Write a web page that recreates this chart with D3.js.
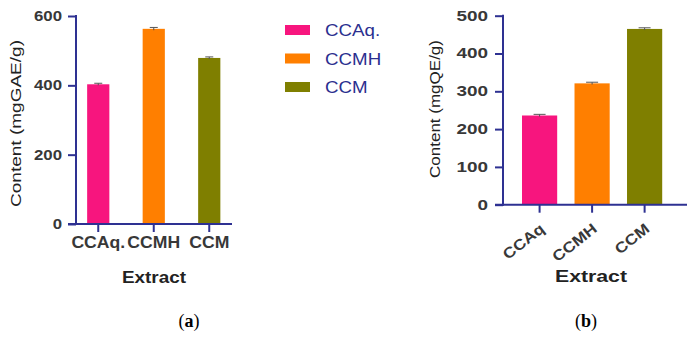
<!DOCTYPE html>
<html>
<head>
<meta charset="utf-8">
<script src="https://cdn.jsdelivr.net/npm/d3@7"></script>
<style>
  body { margin: 0; background: #fff; }
  text { font-family: "Liberation Sans", Arial, sans-serif; }
</style>
</head>
<body>
<div id="chart"></div>
<script>
// data
var categoriesA = ["CCAq.", "CCMH", "CCM"];
var phenolValues = [403, 563, 479];
var phenolErrors = [3, 4, 3];
var yTicksA = [0, 200, 400, 600];

var categoriesB = ["CCAq", "CCMH", "CCM"];
var flavonoidValues = [236, 321, 465];
var flavonoidErrors = [3, 3, 3];
var yTicksB = [0, 100, 200, 300, 400, 500];

var legendLabels = ["CCAq.", "CCMH", "CCM"];
var colors = ["#f7157e", "#ff7f00", "#7f7f00"];

var axisColor = "#2e3192";
var labelColor = "#383838";

var svg = d3.select("#chart")
  .append("svg")
    .attr("width", 688)
    .attr("height", 338);

// the original figure uses a wider face than the installed fonts, so widen text a bit
function stretch(sel, f) {
  sel.each(function() {
    var w = this.getComputedTextLength();
    d3.select(this)
      .attr("textLength", w * f)
      .attr("lengthAdjust", "spacingAndGlyphs");
  });
}

// draws one bar panel
function panel(opts) {
  var g = svg.append("g");

  var y = d3.scaleLinear()
    .domain(opts.yDomain)
    .range([opts.bottom, opts.top]);

  var x = d3.scaleBand()
    .domain(opts.cats)
    .range(opts.xRange)
    .paddingInner(opts.padIn)
    .paddingOuter(opts.padOut);

  // bars
  g.selectAll(".bar")
    .data(opts.values)
    .enter()
    .append("rect")
      .attr("x", function(d, i) { return x(opts.cats[i]); })
      .attr("y", function(d) { return y(d); })
      .attr("width", x.bandwidth())
      .attr("height", function(d) { return y(0) - y(d); })
      .style("fill", function(d, i) { return colors[i]; });

  // error bars
  var eb = g.selectAll(".err")
    .data(opts.values)
    .enter()
    .append("g")
    .attr("stroke", "#555")
    .attr("stroke-width", 1);
  eb.append("line")
    .attr("x1", function(d, i) { return x(opts.cats[i]) + x.bandwidth() / 2; })
    .attr("x2", function(d, i) { return x(opts.cats[i]) + x.bandwidth() / 2; })
    .attr("y1", function(d, i) { return y(d - opts.errors[i]); })
    .attr("y2", function(d, i) { return y(d + opts.errors[i]); });
  eb.append("line")
    .attr("x1", function(d, i) { return x(opts.cats[i]) + x.bandwidth() / 2 - opts.cap; })
    .attr("x2", function(d, i) { return x(opts.cats[i]) + x.bandwidth() / 2 + opts.cap; })
    .attr("y1", function(d, i) { return y(d + opts.errors[i]); })
    .attr("y2", function(d, i) { return y(d + opts.errors[i]); });

  // y axis
  var yAxis = g.append("g")
    .attr("transform", "translate(" + opts.axisX + ",0)")
    .call(d3.axisLeft(y).tickValues(opts.yTicks).tickSize(8).tickSizeOuter(0).tickPadding(opts.yPad));
  yAxis.select(".domain").remove();
  yAxis.selectAll("line").attr("stroke", axisColor).attr("stroke-width", 2);
  yAxis.selectAll("text")
    .style("font-size", "14px").style("font-weight", "bold").attr("fill", labelColor)
    .call(stretch, opts.yStretch);

  // x axis
  var xAxis = g.append("g")
    .attr("transform", "translate(0," + opts.bottom + ")")
    .call(d3.axisBottom(x).tickSize(8).tickSizeOuter(0).tickPadding(5));
  xAxis.select(".domain").remove();
  xAxis.selectAll("line").attr("stroke", axisColor).attr("stroke-width", 2);
  xAxis.selectAll("text")
    .style("font-size", opts.xFont).style("font-weight", "bold").attr("fill", labelColor);
  if (opts.rotate) {
    xAxis.selectAll("text")
      .attr("text-anchor", "end")
      .attr("dy", null)
      .attr("y", 0)
      .attr("transform", "translate(6,26) rotate(-38)");
  }
  xAxis.selectAll("text").call(stretch, opts.xStretch);

  // axis lines
  g.append("line")
    .attr("x1", opts.axisX).attr("x2", opts.axisX)
    .attr("y1", y(opts.yDomain[1]) - 1).attr("y2", opts.bottom + 1)
    .attr("stroke", axisColor).attr("stroke-width", 2);
  g.append("line")
    .attr("x1", opts.axisX - 8).attr("x2", opts.xEnd)
    .attr("y1", opts.bottom).attr("y2", opts.bottom)
    .attr("stroke", axisColor).attr("stroke-width", 2);

  // titles
  g.append("text")
    .attr("transform", "translate(" + opts.yTitleX + "," + opts.yTitleY + ") rotate(-90)")
    .attr("text-anchor", "middle")
    .style("font-size", "15px")
    .attr("fill", "#222")
    .text(opts.yTitle)
    .attr("textLength", opts.yTitleLen)
    .attr("lengthAdjust", "spacingAndGlyphs");
  g.append("text")
    .attr("x", opts.xTitleX)
    .attr("y", opts.xTitleY)
    .attr("text-anchor", "middle")
    .style("font-size", "16px").style("font-weight", "bold")
    .attr("fill", "#222")
    .text("Extract")
    .attr("textLength", opts.xTitleLen)
    .attr("lengthAdjust", "spacingAndGlyphs");

  // caption
  var cap = g.append("text")
    .attr("x", opts.captionX)
    .attr("y", 327)
    .attr("text-anchor", "middle")
    .style("font-family", "'Liberation Serif', serif")
    .style("font-size", "18px")
    .attr("fill", "#000");
  cap.append("tspan").text("(");
  cap.append("tspan").style("font-weight", "bold").text(opts.caption);
  cap.append("tspan").text(")");
}

panel({
  cats: categoriesA, values: phenolValues, errors: phenolErrors,
  yDomain: [0, 600], yTicks: yTicksA,
  top: 16, bottom: 224, axisX: 76, xEnd: 232,
  xRange: [70.5, 237], padIn: 0.6, padOut: 0.3, cap: 4,
  yPad: 6, yStretch: 1.2, xFont: "16px", xStretch: 1.1,
  yTitle: "Content (mgGAE/g)", yTitleX: 21, yTitleY: 123.5, yTitleLen: 167,
  xTitleX: 154, xTitleY: 283, xTitleLen: 64,
  rotate: false, caption: "a", captionX: 189
});

panel({
  cats: categoriesB, values: flavonoidValues, errors: flavonoidErrors,
  yDomain: [0, 500], yTicks: yTicksB,
  top: 15.7, bottom: 204.7, axisX: 503, xEnd: 687,
  xRange: [511.5, 672.7], padIn: 0.33, padOut: 0.2, cap: 6,
  yPad: 7, yStretch: 1.35, xFont: "15px", xStretch: 1.15,
  yTitle: "Content (mgQE/g)", yTitleX: 440, yTitleY: 109, yTitleLen: 138,
  xTitleX: 591, xTitleY: 282, xTitleLen: 72,
  rotate: true, caption: "b", captionX: 586
});

// legend
var legend = svg.append("g")
  .selectAll("g")
  .data(legendLabels)
  .enter()
  .append("g")
    .attr("transform", function(d, i) { return "translate(285," + (25 + i * 28.5) + ")"; });
legend.append("rect")
  .attr("width", 25)
  .attr("height", 10)
  .style("fill", function(d, i) { return colors[i]; });
legend.append("text")
  .attr("x", 40)
  .attr("y", 11)
  .style("font-size", "16px")
  .attr("fill", "#2b2f8f")
  .text(function(d) { return d; })
  .call(stretch, 1.17);
</script>
</body>
</html>
